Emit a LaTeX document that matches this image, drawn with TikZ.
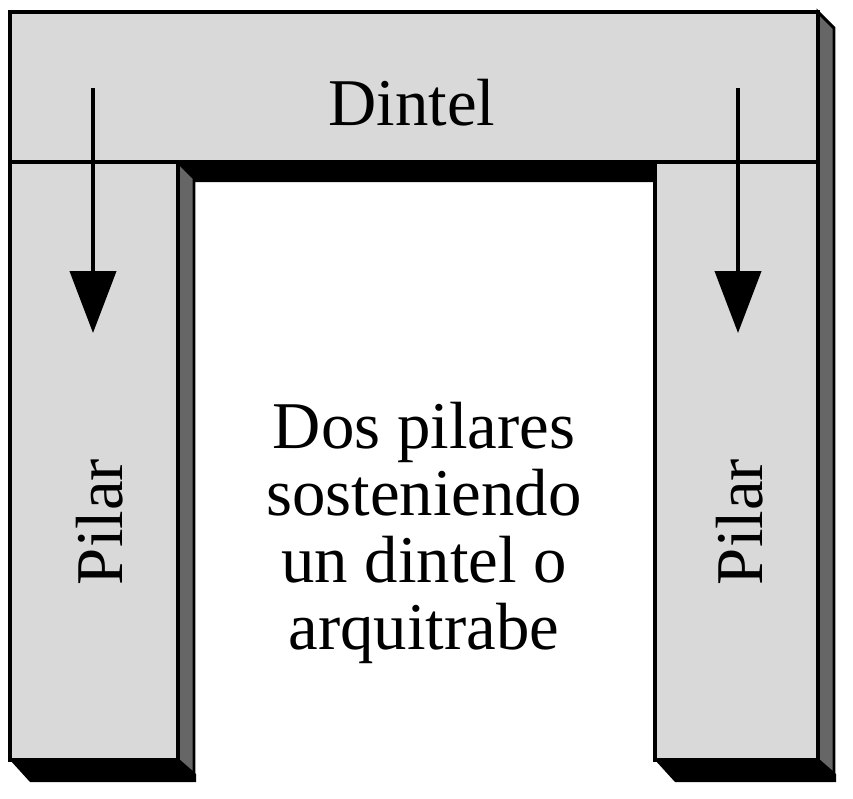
\documentclass[tikz,border=0pt]{standalone}
\usepackage{fontspec}
\setmainfont{Liberation Serif}
\usetikzlibrary{arrows.meta}
\definecolor{face}{gray}{0.85}
\definecolor{side}{gray}{0.4}
\begin{document}
\begin{tikzpicture}[x=0.03cm,y=-0.03cm,
	block/.style={
		draw=black,
		line width=3.5pt,
		fill=face
	},
	sideface/.style={
		draw=black,
		line width=2.5pt,
		fill=side
	},
	shadow/.style={
		fill=black
	},
	load/.style={
		line width=3.5pt,
		-{Triangle[width=46*0.03cm,length=62*0.03cm]}
	},
	label/.style={
		align=center,
		font=\fontsize{57}{57}\selectfont
	},
]
\useasboundingbox (0,0) rectangle (853,798);

% Shadows
\fill[shadow] (178,162) -- (655,162) -- (655,182) -- (194,182) -- cycle;
\fill[shadow] (10,760) -- (30,782) -- (196,782) -- (196,774) -- (178,760) -- cycle;
\fill[shadow] (655,760) -- (675,782) -- (836,782) -- (836,774) -- (818,760) -- cycle;
\draw[sideface] (178,162) -- (194,178) -- (194,774) -- (178,760) -- cycle;
\draw[sideface] (818,12) -- (834,28) -- (834,774) -- (818,760) -- cycle;

% Blocks
\draw[block] (10,162) rectangle (178,760);
\draw[block] (655,162) rectangle (818,760);
\draw[block] (10,12) rectangle (818,162);

% Texts
\node[label] (dintel) at (412,103) {Dintel};
\node[label, rotate=90] (pilarL) at (100,522) {Pilar};
\node[label, rotate=90] (pilarR) at (740,522) {Pilar};
\node[label] (desc) at (424,533) {Dos pilares\\sosteniendo\\un dintel o\\arquitrabe};

% Loads
\coordinate (l1) at (93,88);
\coordinate (l2) at (93,333);
\coordinate (r1) at (738,88);
\coordinate (r2) at (738,333);
\draw[load] (l1) -- (l2);
\draw[load] (r1) -- (r2);
\end{tikzpicture}
\end{document}
